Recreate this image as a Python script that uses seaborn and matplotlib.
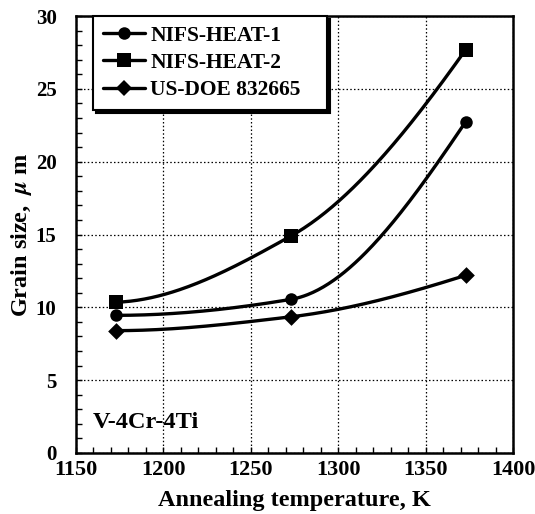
import numpy as np
import pandas as pd
import matplotlib
matplotlib.use("Agg")
import matplotlib.pyplot as plt
import seaborn as sns
from matplotlib.lines import Line2D
from matplotlib.ticker import MultipleLocator

# データ
temps = [1173, 1273, 1373]
heat1 = [9.45, 10.55, 22.75]
heat2 = [10.35, 14.9, 27.7]
doe = [8.4, 9.35, 12.2]
labels = ["NIFS-HEAT-1", "NIFS-HEAT-2", "US-DOE 832665"]
markers = ["o", "s", "D"]
msizes = [9, 9.5, 8.5]

# 軸目盛
xticks = [1150, 1200, 1250, 1300, 1350, 1400]
yticks = [0, 5, 10, 15, 20, 25, 30]

sns.set_theme(style="ticks")
plt.rcParams["font.family"] = ["Liberation Serif", "DejaVu Serif"]
plt.rcParams["font.weight"] = "bold"
plt.rcParams["mathtext.fontset"] = "stix"
# seabornの灰色を黒に戻す
for key in ["text.color", "axes.labelcolor", "xtick.color", "ytick.color",
            "xtick.labelcolor", "ytick.labelcolor", "axes.edgecolor"]:
    plt.rcParams[key] = "black"


def pchip_curve(x, y, n=200):
    # 滑らかな線 (単調エルミート補間) - 描画用
    x = np.asarray(x, float)
    y = np.asarray(y, float)
    h = np.diff(x)
    d = np.diff(y) / h
    m = np.zeros_like(y)
    for k in range(1, len(x) - 1):
        if d[k - 1] * d[k] > 0:
            w1 = 2 * h[k] + h[k - 1]
            w2 = h[k] + 2 * h[k - 1]
            m[k] = (w1 + w2) / (w1 / d[k - 1] + w2 / d[k])
    for i, (h0, h1, d0, d1) in [(0, (h[0], h[1], d[0], d[1])), (-1, (h[-1], h[-2], d[-1], d[-2]))]:
        e = ((2 * h0 + h1) * d0 - h0 * d1) / (h0 + h1)
        if np.sign(e) != np.sign(d0):
            e = 0.0
        elif np.sign(d0) != np.sign(d1) and abs(e) > 3 * abs(d0):
            e = 3 * d0
        m[i] = e
    xs = np.linspace(x[0], x[-1], n)
    ys = np.empty_like(xs)
    for j, xv in enumerate(xs):
        k = min(np.searchsorted(x, xv, side="right") - 1, len(x) - 2)
        t = (xv - x[k]) / h[k]
        h00 = 2 * t**3 - 3 * t**2 + 1
        h10 = t**3 - 2 * t**2 + t
        h01 = -2 * t**3 + 3 * t**2
        h11 = t**3 - t**2
        ys[j] = h00 * y[k] + h10 * h[k] * m[k] + h01 * y[k + 1] + h11 * h[k] * m[k + 1]
    return xs, ys


fig = plt.figure(figsize=(5.35, 5.14), dpi=100)
ax = fig.add_axes([76 / 535, 1 - 453 / 514, 437 / 535, 437 / 514])

handles = []
for vals, lab, mk, ms in zip([heat1, heat2, doe], labels, markers, msizes):
    xs, ys = pchip_curve(temps, vals)
    sns.lineplot(x=xs, y=ys, ax=ax, color="black", lw=2.4, legend=False, zorder=3)
    sns.scatterplot(x=temps, y=vals, ax=ax, marker=mk, color="black",
                    s=ms**2, edgecolor="black", linewidth=0, zorder=4, legend=False)
    handles.append(Line2D([], [], color="black", lw=2.4, marker=mk, markersize=ms,
                          markeredgewidth=0, label=lab))

ax.set_xlim(1150, 1400)
ax.set_ylim(0, 30)
ax.set_xticks(xticks, [str(v) for v in xticks], fontsize=16, fontweight="bold")
ax.set_yticks(yticks, [str(v) for v in yticks], fontsize=15, fontweight="bold")
ax.xaxis.set_minor_locator(MultipleLocator(10))
ax.yaxis.set_minor_locator(MultipleLocator(1))
ax.tick_params(axis="both", which="both", direction="in", length=4, width=1,
               top=False, right=False, color="black", labelcolor="black")
ax.tick_params(axis="x", which="major", pad=5)
ax.tick_params(axis="y", which="major", pad=14)

ax.grid(True, which="major", color="black", linestyle=(0, (1.2, 1.8)), linewidth=0.9)
for sp in ax.spines.values():
    sp.set_linewidth(1.8)
    sp.set_color("black")

ax.set_xlabel("Annealing temperature, K", fontsize=17.5, fontweight="bold",
              labelpad=7, color="black")
ax.set_ylabel(r"Grain size,  $\mathit{\mu}$ m", fontsize=17.5, fontweight="bold",
              labelpad=1, color="black")

ax.text(0.039, 0.057, "V-4Cr-4Ti", transform=ax.transAxes, fontsize=17.5,
        fontweight="bold", ha="left", va="baseline", color="black")

leg = ax.legend(handles=handles, loc="upper left",
                bbox_to_anchor=(0.039, 0.78, 0.5355, 0.22), mode="expand",
                borderaxespad=0, fancybox=False, frameon=True,
                prop={"weight": "bold", "size": 15.5},
                handlelength=1.95, handletextpad=0.26, borderpad=0.45,
                labelspacing=0.33, labelcolor="black",
                shadow={"facecolor": "black", "edgecolor": "black", "alpha": 1})
leg.get_frame().set_edgecolor("black")
leg.get_frame().set_linewidth(1.5)
leg.get_frame().set_alpha(1)
leg.set_zorder(5)

fig.savefig("out.png", dpi=100)
